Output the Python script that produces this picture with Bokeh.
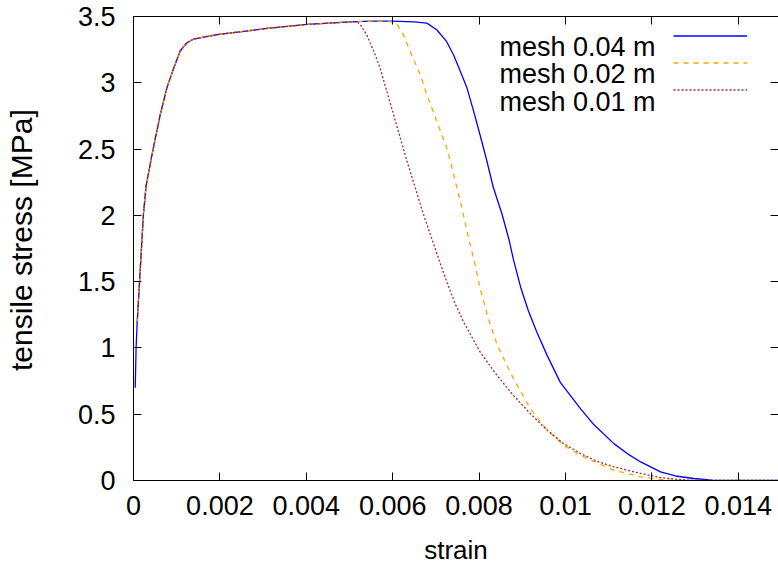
from bokeh.plotting import figure
from bokeh.models import (Range1d, LinearAxis, FixedTicker, CustomJSTickFormatter,
                          Label, Legend, LegendItem)
from bokeh.embed import file_html
from bokeh.resources import INLINE

# ---- data ----
x_ticks = [0, 0.002, 0.004, 0.006, 0.008, 0.01, 0.012, 0.014]
y_ticks = [0, 0.5, 1, 1.5, 2, 2.5, 3, 3.5]
series_names = ["mesh 0.04 m", "mesh 0.02 m", "mesh 0.01 m"]

# shared hardening branch (all meshes overlap here)
hard_x = [0.000085, 0.00014, 0.00023, 0.00029, 0.00046, 0.00062, 0.00077, 0.00093,
          0.00108, 0.00123, 0.00139, 0.00193, 0.00309, 0.00401, 0.00502]
hard_y = [1.19, 1.50, 2.01, 2.22, 2.51, 2.76, 2.96, 3.11,
          3.24, 3.30, 3.33, 3.363, 3.41, 3.44, 3.459]

mesh004_start_x = [0.00004, 0.00006]
mesh004_start_y = [0.70, 1.00]
mesh004_soft_x = [0.0055, 0.006, 0.0065, 0.00679, 0.00702, 0.00725, 0.00741, 0.00756,
                  0.00772, 0.00787, 0.00802, 0.00818, 0.00833, 0.00853, 0.00869, 0.0088,
                  0.00896, 0.00914, 0.00934, 0.00958, 0.00988, 0.01035, 0.01066, 0.01112,
                  0.01143, 0.01174, 0.0122, 0.01259, 0.01297, 0.0134, 0.0138, 0.015]
mesh004_soft_y = [3.465, 3.465, 3.46, 3.45, 3.40, 3.31, 3.21, 3.09,
                  2.96, 2.79, 2.61, 2.41, 2.21, 2.01, 1.82, 1.66,
                  1.46, 1.28, 1.116, 0.94, 0.74, 0.54, 0.42, 0.278,
                  0.203, 0.14, 0.065, 0.032, 0.015, 0.002, 0.0, 0.0]

mesh002_soft_x = [0.0055, 0.00598, 0.0061, 0.00625, 0.0064, 0.00664, 0.00679, 0.00702,
                  0.00725, 0.00741, 0.0076, 0.00776, 0.00788, 0.00803, 0.00822, 0.00842,
                  0.0088, 0.00919, 0.00958, 0.00996, 0.01035, 0.01112, 0.01174, 0.0122,
                  0.0126, 0.015]
mesh002_soft_y = [3.465, 3.46, 3.44, 3.36, 3.24, 3.06, 2.91, 2.71,
                  2.51, 2.31, 2.06, 1.82, 1.667, 1.44, 1.216, 1.02,
                  0.766, 0.54, 0.378, 0.265, 0.19, 0.077, 0.028, 0.008,
                  0.0, 0.0]

mesh001_soft_x = [0.00517, 0.00525, 0.0054, 0.00556, 0.00571, 0.00586, 0.00602, 0.00617,
                  0.00633, 0.00652, 0.00671, 0.00691, 0.00707, 0.00726, 0.00745, 0.00765,
                  0.00803, 0.00842, 0.0088, 0.00919, 0.00958, 0.00996, 0.01035, 0.01073,
                  0.01112, 0.01174, 0.0122, 0.0126, 0.013, 0.015]
mesh001_soft_y = [3.46, 3.44, 3.36, 3.24, 3.11, 2.94, 2.76, 2.59,
                  2.41, 2.21, 2.01, 1.82, 1.667, 1.49, 1.33, 1.19,
                  0.966, 0.79, 0.64, 0.503, 0.378, 0.278, 0.203, 0.145,
                  0.103, 0.053, 0.022, 0.008, 0.0, 0.0]

mesh004_x = mesh004_start_x + hard_x + mesh004_soft_x
mesh004_y = mesh004_start_y + hard_y + mesh004_soft_y
mesh002_x = hard_x + mesh002_soft_x
mesh002_y = hard_y + mesh002_soft_y
mesh001_x = hard_x + mesh001_soft_x
mesh001_y = hard_y + mesh001_soft_y

FONT = "Liberation Sans"
FS = "27px"

p = figure(width=778, height=567, output_backend="svg", toolbar_location=None,
           x_range=Range1d(0, 0.014931), y_range=Range1d(0, 3.5),
           min_border_left=133, min_border_right=0, min_border_top=16,
           min_border_bottom=85)
p.outline_line_color = None
p.grid.visible = False
p.background_fill_color = "white"
p.border_fill_color = "white"

fmt = CustomJSTickFormatter(code="return String(Number(tick.toPrecision(6)));")
blank = CustomJSTickFormatter(code="return '';")

for ax, ticks in ((p.xaxis[0], x_ticks), (p.yaxis[0], y_ticks)):
    ax.ticker = FixedTicker(ticks=ticks)
    ax.formatter = fmt
    ax.major_tick_in = 8
    ax.major_tick_out = 0
    ax.minor_tick_line_color = None
    ax.axis_line_color = "black"
    ax.major_tick_line_color = "black"
    ax.major_label_text_font = FONT
    ax.major_label_text_font_size = FS
    ax.major_label_text_color = "black"
    ax.axis_label_text_font = FONT
    ax.axis_label_text_font_style = "normal"
    ax.axis_label_text_color = "black"

p.xaxis.axis_label = "strain"
p.xaxis.axis_label_text_font_size = "26px"
p.xaxis.major_label_standoff = 15
p.xaxis.axis_label_standoff = 17

# non-breaking spaces shift the centred title a little upwards, as in the reference
p.yaxis.axis_label = "\u00a0\u00a0tensile stress [MPa]"
p.yaxis.axis_label_text_font_size = "30px"
p.yaxis.major_label_standoff = 18
p.yaxis.axis_label_standoff = 37

top = LinearAxis(ticker=FixedTicker(ticks=x_ticks), formatter=blank,
                 major_tick_in=8, major_tick_out=0, minor_tick_line_color=None,
                 major_label_standoff=0, major_label_text_font_size="0px",
                 axis_line_color="black", major_tick_line_color="black")
p.add_layout(top, "above")
right = LinearAxis(ticker=FixedTicker(ticks=y_ticks), formatter=blank,
                   major_tick_in=8, major_tick_out=0, minor_tick_line_color=None,
                   major_label_standoff=0, major_label_text_font_size="0px",
                   axis_line_color=None, major_tick_line_color="black")
p.add_layout(right, "right")

r1 = p.line(mesh004_x, mesh004_y, line_color="#0000ff", line_width=1.3)
r2 = p.line(mesh002_x, mesh002_y, line_color="#ffa500", line_width=1.3, line_dash="5 5")
r3 = p.line(mesh001_x, mesh001_y, line_color="#a52a2a", line_width=1.3, line_dash="2 2")

legend = Legend(items=[LegendItem(label=" ", renderers=[r]) for r in (r1, r2, r3)],
                location=(540, 377), glyph_width=74, glyph_height=27, spacing=0,
                padding=0, margin=0, label_standoff=0, label_width=0, label_height=0,
                label_text_font_size="1px", border_line_color=None,
                background_fill_alpha=0)
p.add_layout(legend, "center")

for i, name in enumerate(series_names):
    p.add_layout(Label(x=522, y=434 - 27.5 * i, x_units="screen", y_units="screen",
                       text=name, text_align="right", text_baseline="alphabetic",
                       text_font=FONT, text_font_size=FS, text_color="black"))

open("out.html", "w").write(file_html(p, INLINE))
